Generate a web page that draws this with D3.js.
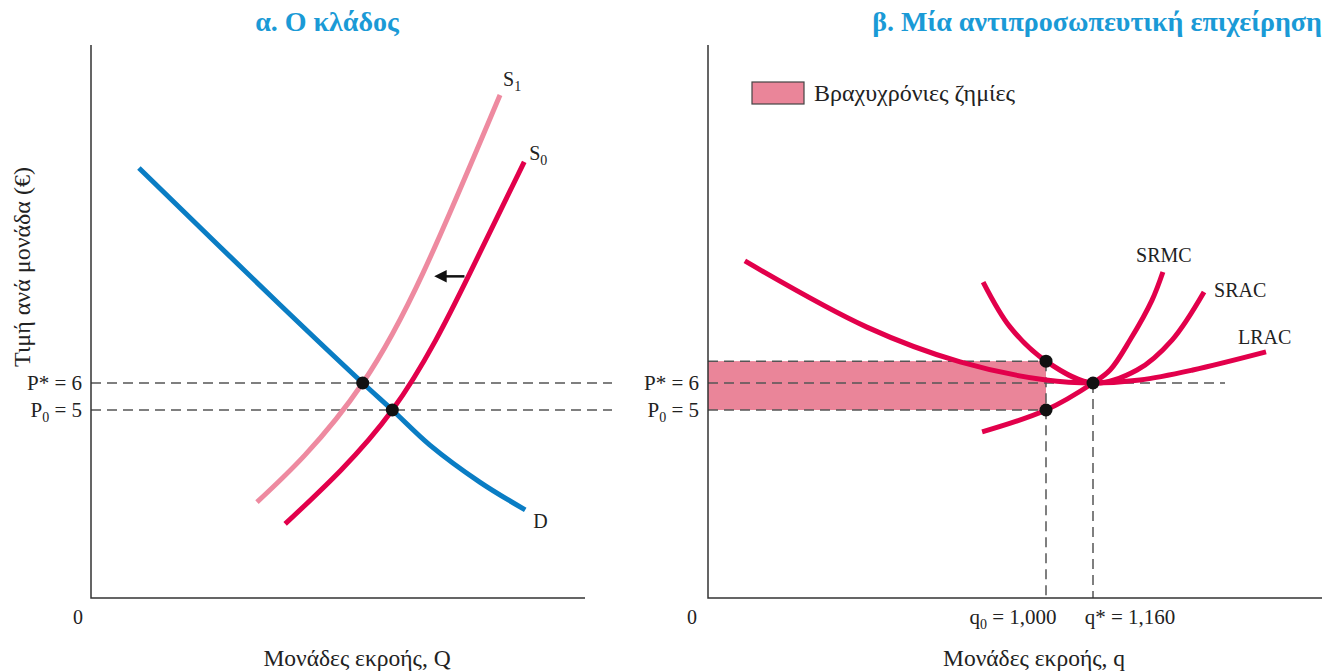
<!DOCTYPE html>
<html>
<head>
<meta charset="utf-8">
<script src="https://cdn.jsdelivr.net/npm/d3@7"></script>
<style>
body { margin: 0; background: #fff; }
</style>
</head>
<body>
<div id="display"></div>
<script>
// panel a: the industry (Q in schematic units, price in euros)
var demandQ  = [9.7, 38.3, 55, 61, 68.6, 78.7, 87.9];
var demandP  = [13.96, 8.89, 6, 5, 3.70, 2.33, 1.30];
var supply0Q = [39.3, 61, 76.7, 87.7];
var supply0P = [0.78, 5, 10.07, 14.19];
var supply1Q = [33.6, 43.3, 55, 67.2, 82.8];
var supply1P = [1.59, 3.33, 6, 10.07, 16.67];
var equilibriaQ = [55, 61];
var equilibriaP = [6, 5];

// panel b: a representative firm
var lracQ = [109, 470, 746, 1000, 1160, 1320, 1500, 1749];
var lracP = [10.52, 8.07, 6.78, 6.11, 6, 6.11, 6.48, 7.15];
var sracQ = [814, 894, 1000, 1160, 1310, 1429, 1538];
var sracP = [9.74, 8.07, 6.81, 6, 6.48, 7.59, 9.37];
var srmcQ = [811, 1000, 1160, 1218, 1286, 1361, 1398];
var srmcP = [4.19, 5, 6, 6.48, 7.59, 9.07, 10.11];
var firmDotsQ = [1000, 1000, 1160];
var firmDotsP = [6.81, 5, 6];

var priceStar = 6, price0 = 5;
var q0 = 1000, qStar = 1160;

var width = 1327, height = 671;
var crimson = '#e2004b', pink = '#ee8aa0', blue = '#0a7dc4', titleBlue = '#1a9ad6', lossFill = '#ea8599';

var svg = d3.select('#display').append('svg')
    .attr('width', width).attr('height', height)
    .attr('font-family', "'Liberation Serif', 'DejaVu Serif', serif")
    .attr('font-size', 20).attr('fill', '#222');

// shared price scale (schematic, origin not at zero)
var y = d3.scaleLinear().domain([0, 10]).range([545, 275]);
var xL = d3.scaleLinear().domain([0, 100]).range([91, 585]);
var xR = d3.scaleLinear().domain([0, 1000, 1160]).range([708, 1046, 1093]);

var axisBottom = 598, axisTop = 45;

function zip(a, b) { return a.map(function(d, i) { return [d, b[i]]; }); }

function curve(xs, type) {
    return d3.line()
        .x(function(d) { return xs(d[0]); })
        .y(function(d) { return y(d[1]); })
        .curve(type);
}

function dashed(x1, y1, x2, y2) {
    svg.append('line')
        .attr('x1', x1).attr('y1', y1).attr('x2', x2).attr('y2', y2)
        .attr('stroke', '#555').attr('stroke-width', 1.5).attr('stroke-dasharray', '10,6');
}

function axes(x0, x1) {
    svg.append('path')
        .attr('d', 'M' + x0 + ',' + axisTop + 'V' + axisBottom + 'H' + x1)
        .attr('fill', 'none').attr('stroke', '#333').attr('stroke-width', 1.5);
}

function priceLabels(xAxis) {
    svg.append('text').attr('x', xAxis - 9).attr('y', y(priceStar) + 7)
        .attr('text-anchor', 'end').attr('font-size', 21).text('P* = ' + priceStar);
    var t = svg.append('text').attr('x', xAxis - 9).attr('y', y(price0) + 7)
        .attr('text-anchor', 'end').attr('font-size', 21);
    t.append('tspan').text('P');
    t.append('tspan').attr('font-size', 14).attr('dy', 5).text('0');
    t.append('tspan').attr('dy', -5).text(' = ' + price0);
}

function subLabel(x, yy, main, sub) {
    var t = svg.append('text').attr('x', x).attr('y', yy);
    t.append('tspan').text(main);
    t.append('tspan').attr('font-size', 14).attr('dy', 5).text(sub);
}

// ---- panel a ----
dashed(xL(0), y(priceStar), 612, y(priceStar));
dashed(xL(0), y(price0), 612, y(price0));
axes(xL(0), xL(100));

var smoothL = curve(xL, d3.curveNatural);
svg.append('path').attr('d', smoothL(zip(supply1Q, supply1P)))
    .attr('fill', 'none').attr('stroke', pink).attr('stroke-width', 5);
svg.append('path').attr('d', smoothL(zip(supply0Q, supply0P)))
    .attr('fill', 'none').attr('stroke', crimson).attr('stroke-width', 5);
svg.append('path').attr('d', curve(xL, d3.curveCatmullRom.alpha(0.5))(zip(demandQ, demandP)))
    .attr('fill', 'none').attr('stroke', blue).attr('stroke-width', 5);

svg.selectAll('.eq').data(zip(equilibriaQ, equilibriaP)).enter().append('circle')
    .attr('cx', function(d) { return xL(d[0]); })
    .attr('cy', function(d) { return y(d[1]); })
    .attr('r', 6.5).attr('fill', '#111');

// shift arrow
svg.append('defs').append('marker')
    .attr('id', 'head').attr('viewBox', '0 0 10 10').attr('refX', 2).attr('refY', 5)
    .attr('markerWidth', 5).attr('markerHeight', 5).attr('orient', 'auto')
    .append('path').attr('d', 'M0,0L10,5L0,10z').attr('fill', '#111');
svg.append('line')
    .attr('x1', xL(75.6)).attr('y1', y(9.95)).attr('x2', xL(71.5)).attr('y2', y(9.95))
    .attr('stroke', '#111').attr('stroke-width', 2.5).attr('marker-end', 'url(#head)');

var s1End = supply1Q.length - 1, s0End = supply0Q.length - 1, dEnd = demandQ.length - 1;
subLabel(xL(supply1Q[s1End]) + 3, y(supply1P[s1End]) - 9, 'S', '1');
subLabel(xL(supply0Q[s0End]) + 5, y(supply0P[s0End]) - 2, 'S', '0');
svg.append('text').attr('x', xL(demandQ[dEnd]) + 8).attr('y', y(demandP[dEnd]) + 18).text('D');

priceLabels(xL(0));
svg.append('text').attr('x', 78).attr('y', 624).attr('text-anchor', 'middle').text('0');
svg.append('text').attr('x', 357).attr('y', 666).attr('text-anchor', 'middle')
    .attr('font-size', 23.5).text('Μονάδες εκροής, Q');
svg.append('text').attr('transform', 'translate(30,267) rotate(-90)').attr('text-anchor', 'middle')
    .attr('font-size', 24).text('Τιμή ανά μονάδα (€)');
svg.append('text').attr('x', 327).attr('y', 31).attr('text-anchor', 'middle')
    .attr('font-weight', 'bold').attr('font-size', 28).attr('fill', titleBlue).text('α. Ο κλάδος');

// ---- panel b ----
var sracAtQ0 = sracP[sracQ.indexOf(q0)];
svg.append('rect')
    .attr('x', xR(0)).attr('y', y(sracAtQ0))
    .attr('width', xR(q0) - xR(0)).attr('height', y(price0) - y(sracAtQ0))
    .attr('fill', lossFill);
dashed(xR(0), y(sracAtQ0), xR(q0), y(sracAtQ0));
dashed(xR(0), y(priceStar), 1225, y(priceStar));
dashed(xR(0), y(price0), xR(q0), y(price0));
dashed(xR(q0), y(sracAtQ0), xR(q0), axisBottom);
dashed(xR(qStar), y(priceStar), xR(qStar), axisBottom);
axes(xR(0), 1322);

var smoothR = curve(xR, d3.curveCatmullRom.alpha(0.5));
[[lracQ, lracP], [sracQ, sracP], [srmcQ, srmcP]].forEach(function(c) {
    svg.append('path').attr('d', smoothR(zip(c[0], c[1])))
        .attr('fill', 'none').attr('stroke', crimson).attr('stroke-width', 5);
});

svg.selectAll('.fd').data(zip(firmDotsQ, firmDotsP)).enter().append('circle')
    .attr('cx', function(d) { return xR(d[0]); })
    .attr('cy', function(d) { return y(d[1]); })
    .attr('r', 6.5).attr('fill', '#111');

var n;
n = srmcQ.length - 1;
svg.append('text').attr('x', xR(srmcQ[n]) + 1).attr('y', y(srmcP[n]) - 10).attr('text-anchor', 'middle').text('SRMC');
n = sracQ.length - 1;
svg.append('text').attr('x', xR(sracQ[n]) + 10).attr('y', y(sracP[n]) + 5).text('SRAC');
n = lracQ.length - 1;
svg.append('text').attr('x', xR(lracQ[n]) - 28).attr('y', y(lracP[n]) - 8).text('LRAC');

priceLabels(xR(0));
svg.append('text').attr('x', 692).attr('y', 624).attr('text-anchor', 'middle').text('0');
var ql = svg.append('text').attr('x', xR(q0) - 33).attr('y', 624).attr('text-anchor', 'middle').attr('font-size', 21);
ql.append('tspan').text('q');
ql.append('tspan').attr('font-size', 14).attr('dy', 5).text('0');
ql.append('tspan').attr('dy', -5).text(' = 1,000');
svg.append('text').attr('x', xR(qStar) + 37).attr('y', 624).attr('text-anchor', 'middle')
    .attr('font-size', 21).text('q* = 1,160');
svg.append('text').attr('x', 1034).attr('y', 666).attr('text-anchor', 'middle')
    .attr('font-size', 23.5).text('Μονάδες εκροής, q');

// legend
svg.append('rect').attr('x', 752).attr('y', 82).attr('width', 52).attr('height', 22)
    .attr('fill', lossFill).attr('stroke', '#444').attr('stroke-width', 1.2);
svg.append('text').attr('x', 814).attr('y', 101).attr('font-size', 24).text('Βραχυχρόνιες ζημίες');

svg.append('text').attr('x', 1322).attr('y', 31).attr('text-anchor', 'end')
    .attr('font-weight', 'bold').attr('font-size', 28).attr('fill', titleBlue)
    .text('β. Μία αντιπροσωπευτική επιχείρηση');
</script>
</body>
</html>
